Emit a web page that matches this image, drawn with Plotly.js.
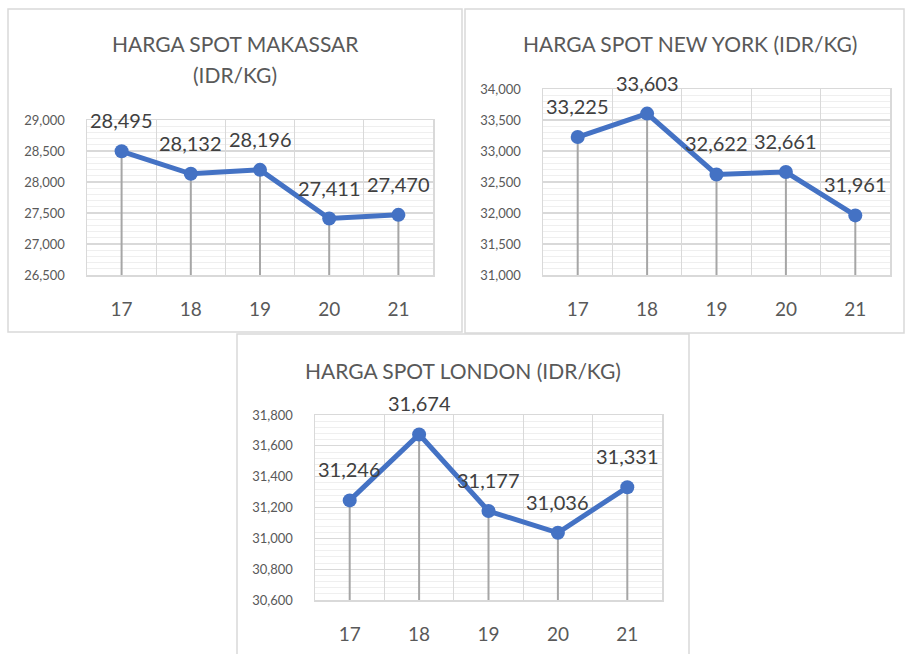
<!DOCTYPE html>
<html>
<head>
<meta charset="utf-8">
<script src="https://cdn.plot.ly/plotly-3.0.1.min.js"></script>
<style>
  html, body { margin: 0; padding: 0; background: #ffffff; }
  #chart { width: 906px; height: 654px; }
</style>
</head>
<body>
<div id="chart"></div>
<script>
// ---- Data ----
const categories = ['17', '18', '19', '20', '21'];
const makassarValues = [28495, 28132, 28196, 27411, 27470];
const newYorkValues = [33225, 33603, 32622, 32661, 31961];
const londonValues = [31246, 31674, 31177, 31036, 31331];
const chartTitles = [
  ['HARGA SPOT MAKASSAR', '(IDR/KG)'],
  ['HARGA SPOT NEW YORK (IDR/KG)'],
  ['HARGA SPOT LONDON (IDR/KG)']
];

// ---- Layout helpers ----
const W = 906, H = 654;
const px = v => v / W;
const py = v => 1 - v / H;
const FONT = 'Lato, "Open Sans", sans-serif';
const BLUE = '#4472C4';

const panels = [
  { values: makassarValues, range: [26500, 29000], dtick: 500, minor: 100,
    plot: [87, 433, 120, 275], box: [8, 462, 9, 332],
    titles: [[235, 44], [235, 74]] },
  { values: newYorkValues, range: [31000, 34000], dtick: 500, minor: 100,
    plot: [543, 890, 89, 275], box: [465, 904, 9, 333],
    titles: [[690, 44]] },
  { values: londonValues, range: [30600, 31800], dtick: 200, minor: 40,
    plot: [315, 662, 415, 600], box: [237, 689, 334, 660],
    titles: [[463, 370]] }
];

const traces = [];
const layout = {
  width: W, height: H,
  margin: { l: 0, r: 0, t: 0, b: 0 },
  paper_bgcolor: '#ffffff',
  plot_bgcolor: '#ffffff',
  showlegend: false,
  font: { family: FONT },
  annotations: [],
  shapes: []
};

panels.forEach((p, i) => {
  const n = i === 0 ? '' : String(i + 1);
  const xa = 'x' + n, ya = 'y' + n;
  const ymin = p.range[0];

  // drop lines
  traces.push({
    x: categories, y: p.values, xaxis: xa, yaxis: ya,
    type: 'scatter', mode: 'markers',
    marker: { size: 1, opacity: 0 },
    hoverinfo: 'skip',
    error_y: {
      type: 'data', symmetric: false,
      array: p.values.map(() => 0),
      arrayminus: p.values.map(v => v - ymin),
      width: 0, thickness: 2, color: '#a6a6a6'
    }
  });
  // main line
  traces.push({
    x: categories, y: p.values, xaxis: xa, yaxis: ya,
    type: 'scatter', mode: 'lines+markers',
    line: { color: BLUE, width: 5 },
    marker: { color: BLUE, size: 14 }
  });

  layout['xaxis' + n] = {
    domain: [px(p.plot[0]), px(p.plot[1])],
    anchor: ya,
    type: 'category',
    range: [-0.5, 4.5],
    tickson: 'boundaries',
    showgrid: true, gridcolor: '#d9d9d9', gridwidth: 1.3,
    showline: true, linecolor: '#d9d9d9', linewidth: 1.5, mirror: true,
    ticks: '', ticklabelstandoff: 17,
    tickfont: { family: FONT, size: 19, color: '#595959' },
    zeroline: false, fixedrange: true
  };
  layout['yaxis' + n] = {
    domain: [py(p.plot[3]), py(p.plot[2])],
    anchor: xa,
    range: p.range,
    tickmode: 'linear', tick0: p.range[0], dtick: p.dtick,
    tickformat: ',d',
    showgrid: true, gridcolor: '#d9d9d9', gridwidth: 1.3,
    minor: { dtick: p.minor, tick0: p.range[0], showgrid: true, gridcolor: '#efefef', gridwidth: 1 },
    showline: true, linecolor: '#d9d9d9', linewidth: 1.5, mirror: true,
    ticks: '', ticklabelstandoff: 18,
    tickfont: { family: FONT, size: 13, color: '#595959' },
    zeroline: false, fixedrange: true
  };

  // data labels (category index positions on the category axis)
  p.values.forEach((v, k) => {
    layout.annotations.push({
      xref: xa, yref: ya, x: k, y: v,
      xanchor: 'center', yanchor: 'middle',
      text: v.toLocaleString('en-US'),
      showarrow: false, yshift: 31,
      font: { family: FONT, size: 20, color: '#404040' }
    });
  });

  // titles
  chartTitles[i].forEach((t, k) => {
    layout.annotations.push({
      xref: 'paper', yref: 'paper',
      x: px(p.titles[k][0]), y: py(p.titles[k][1]),
      xanchor: 'center', yanchor: 'middle',
      text: t, showarrow: false,
      font: { family: FONT, size: 21, color: '#595959' }
    });
  });

  // chart border
  layout.shapes.push({
    type: 'rect', xref: 'paper', yref: 'paper',
    x0: px(p.box[0]), x1: px(p.box[1]),
    y0: py(p.box[3]), y1: py(p.box[2]),
    line: { color: '#d9d9d9', width: 1.5 },
    fillcolor: 'rgba(0,0,0,0)', layer: 'below'
  });
});

Plotly.newPlot('chart', traces, layout, { displayModeBar: false, staticPlot: true });
</script>
</body>
</html>
